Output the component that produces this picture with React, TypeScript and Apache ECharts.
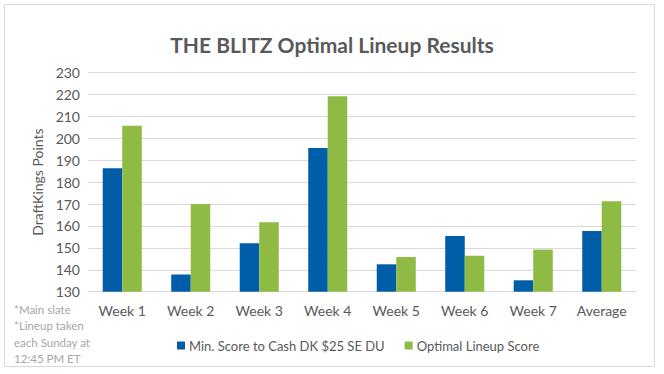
import React, { useEffect, useRef } from "react";
import * as echarts from "echarts";

const categories = ["Week 1", "Week 2", "Week 3", "Week 4", "Week 5", "Week 6", "Week 7", "Average"];
const minScore = [186.3, 137.9, 152.1, 195.5, 142.5, 155.4, 135.2, 157.7];
const optimalScore = [205.7, 170.0, 161.7, 219.2, 145.8, 146.4, 149.2, 171.3];
const seriesNames = ["Min. Score to Cash DK $25 SE DU", "Optimal Lineup Score"];
const footnotes = ["*Main slate", "*Lineup taken", "each Sunday at", "12:45 PM ET"];

const FONT = "Lato, 'Open Sans', sans-serif";

export default function App() {
  const ref = useRef<HTMLDivElement>(null);
  useEffect(() => {
    if (!ref.current) return;
    const chart = echarts.init(ref.current, null, { renderer: "svg" });
    chart.setOption({
      animation: false,
      backgroundColor: "#ffffff",
      title: {
        text: "THE BLITZ Optimal Lineup Results",
        left: "center",
        top: 29,
        textStyle: { fontFamily: FONT, fontSize: 21, fontWeight: "bold", color: "#595959" },
      },
      grid: { left: 88, right: 28, top: 72.5, bottom: 82.3, containLabel: false },
      xAxis: {
        type: "category",
        data: categories,
        axisLine: { show: true, lineStyle: { color: "#d9d9d9" } },
        axisTick: { show: false },
        axisLabel: { fontFamily: FONT, fontSize: 14, color: "#595959", margin: 12 },
      },
      yAxis: {
        type: "value",
        min: 130,
        max: 230,
        interval: 10,
        name: "DraftKings Points",
        nameLocation: "middle",
        nameGap: 40,
        nameTextStyle: { fontFamily: FONT, fontSize: 14, color: "#595959" },
        axisLine: { show: false },
        axisTick: { show: false },
        axisLabel: { fontFamily: FONT, fontSize: 14, color: "#595959", margin: 8 },
        splitLine: { lineStyle: { color: "#d9d9d9", width: 1 } },
      },
      legend: {
        data: seriesNames,
        left: 172,
        top: 334,
        itemWidth: 8,
        itemHeight: 8,
        itemGap: 20,
        itemStyle: { borderWidth: 0 },
        icon: "rect",
        textStyle: { fontFamily: FONT, fontSize: 13, color: "#595959", padding: [0, 0, 0, -1] },
      },
      graphic: [
        {
          type: "rect",
          shape: { x: 4.5, y: 4.5, width: 650, height: 362 },
          style: { fill: "none", stroke: "#d9d9d9", lineWidth: 1 },
          silent: true,
        },
        ...footnotes.map((t, i) => ({
          type: "text",
          left: 14,
          top: 303 + i * 16.5,
          style: { text: t, fontFamily: FONT, fontSize: 11.5, fill: "#a6a6a6" },
        })),
      ],
      series: [
        {
          name: seriesNames[0],
          type: "bar",
          data: minScore,
          barGap: "0%",
          barCategoryGap: "43%",
          itemStyle: { color: "#005ea8" },
        },
        {
          name: seriesNames[1],
          type: "bar",
          data: optimalScore,
          barGap: "0%",
          barCategoryGap: "43%",
          itemStyle: { color: "#8fbb45" },
        },
      ],
    });
    return () => chart.dispose();
  }, []);
  return <div ref={ref} style={{ position: "fixed", left: 0, top: 0, width: 664, height: 374 }} />;
}
